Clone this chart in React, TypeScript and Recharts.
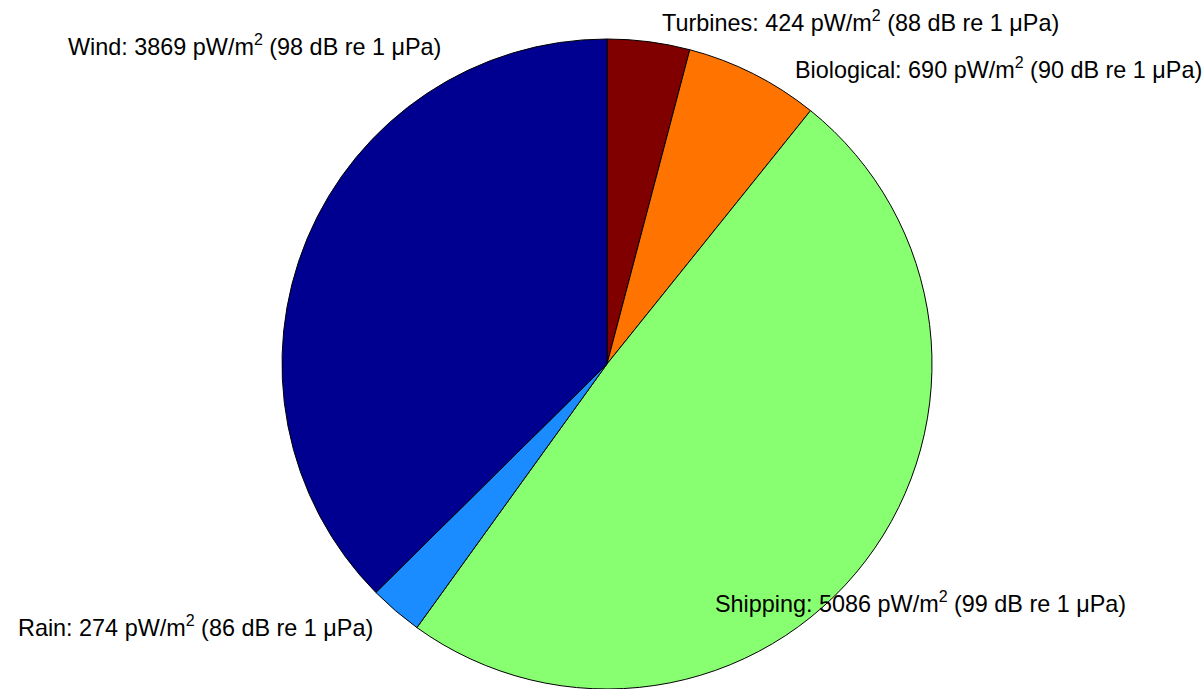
import React from "react";
import { PieChart, Pie, Cell } from "recharts";

const names = ["Turbines", "Biological", "Shipping", "Rain", "Wind"];
const powers = [424, 690, 5086, 274, 3869];
const decibels = [88, 90, 99, 86, 98];
const colors = ["#800000", "#FF7400", "#88FF70", "#1A8CFF", "#000090"];

// label anchor positions (x start, baseline y)
const labelPos = [
  { x: 662, y: 31 },
  { x: 795, y: 78 },
  { x: 715, y: 612 },
  { x: 18, y: 636 },
  { x: 68, y: 55 },
];

const data = names.map((n, i) => ({ name: n, value: powers[i], db: decibels[i] }));

const renderLabel = (props: any) => {
  const i = props.index;
  const p = labelPos[i];
  const d = data[i];
  return (
    <text
      x={p.x}
      y={p.y}
      textAnchor="start"
      fill="#000"
      fontFamily="'Liberation Sans', Arial, sans-serif"
      fontSize={23.4}
    >
      <tspan>{`${d.name}: ${d.value} pW/m`}</tspan>
      <tspan dy={-10} fontSize={16}>2</tspan>
      <tspan dy={10}>{` (${d.db} dB re 1 \u03BCPa)`}</tspan>
    </text>
  );
};

export default function App() {
  return (
    <div style={{ position: "absolute", left: 0, top: 0, width: 1203, height: 689, background: "#fff" }}>
      <PieChart width={1203} height={689}>
        <Pie
          data={data}
          dataKey="value"
          nameKey="name"
          cx={602}
          cy={359}
          outerRadius={325}
          innerRadius={0}
          startAngle={90}
          endAngle={-270}
          stroke="#000"
          strokeWidth={1}
          label={renderLabel}
          labelLine={false}
          isAnimationActive={false}
        >
          {data.map((d, i) => (
            <Cell key={d.name} fill={colors[i]} />
          ))}
        </Pie>
      </PieChart>
    </div>
  );
}
